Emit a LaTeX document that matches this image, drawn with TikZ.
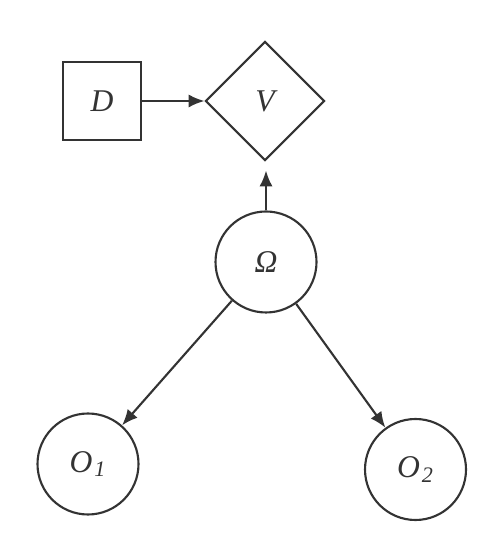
\documentclass[tikz,border=0pt]{standalone}
\usepackage{fontspec}
\setmainfont{Liberation Serif}
\usetikzlibrary{shapes.geometric,arrows.meta}
\definecolor{ink}{HTML}{333333}
\begin{document}
\begin{tikzpicture}[
    decision/.style={rectangle, draw=ink, line width=1.2pt, minimum size=1.56cm, inner sep=0pt},
    value/.style={diamond, draw=ink, line width=1.2pt, minimum size=2.38cm, inner sep=0pt},
    chance/.style={circle, draw=ink, line width=1.2pt, minimum size=2.02cm, inner sep=0pt},
    link/.style={draw=ink, line width=1.2pt, -{Latex[length=9pt,width=7.5pt]}},
    every node/.style={text=ink, font=\fontsize{18}{21}\selectfont\itshape}
]
    \useasboundingbox (0,0) rectangle (10.04,11.04);

    % Nodes
    \node[decision] (dec) at (2.04,9.02) {D};
    \node[value] (val) at (5.30,9.02) {V};
    \node[chance] (omega) at (5.32,5.80) {Ω};
    \node[chance] (obs1) at (1.76,1.76) {O\kern1pt\textsubscript{1}};
    \node[chance] (obs2) at (8.31,1.65) {O\kern1pt\textsubscript{2}};

    % Arrows
    \draw[link] (dec) -- (val);
    \draw[link, shorten >=0.18cm] (omega) -- (omega |- val.south);
    \draw[link] (omega) -- (obs1);
    \draw[link] (omega) -- (obs2);

\end{tikzpicture}
\end{document}
